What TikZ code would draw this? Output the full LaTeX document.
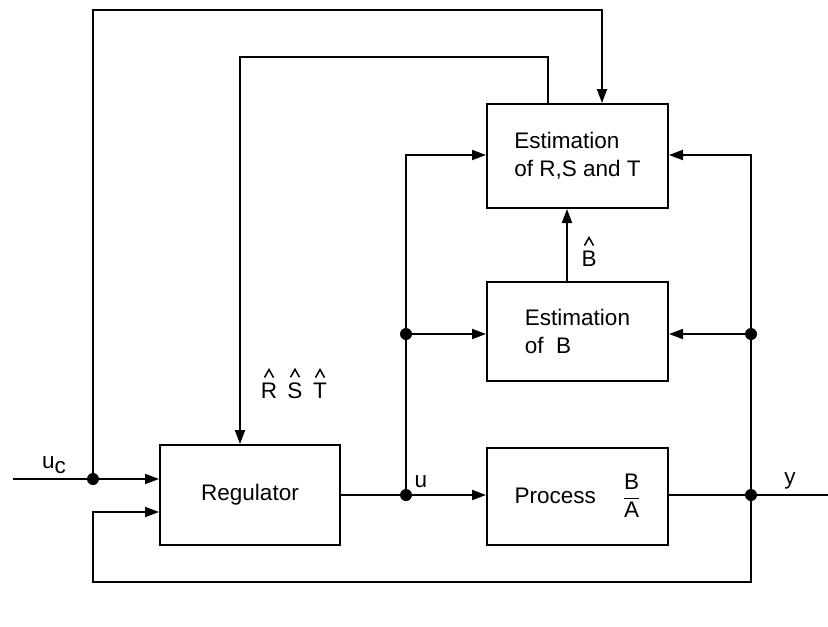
\documentclass[tikz,border=0pt]{standalone}
\usepackage{fontspec}
\usepackage{amsmath}
\setmainfont{Liberation Sans}
\usetikzlibrary{arrows.meta}
\begin{document}
\begin{tikzpicture}[x=1pt,y=-1pt, line width=2pt,
 blk/.style={draw, line width=2pt, minimum width=181pt, inner sep=0pt, font=\fontsize{22.5}{28}\selectfont, align=left},
 arr/.style={-{Triangle[length=14pt,width=10pt]}},
 dot/.style={circle, fill, inner sep=0pt, minimum size=12pt},
 lbl/.style={font=\fontsize{22.5}{25}\selectfont, inner sep=0pt},
 hat/.style={line width=1.5pt, line join=miter},
 pics/caret/.style={code={\draw[hat] (-4.5,0) -- (0,-8) -- (4.5,0);}}]
\useasboundingbox (0,0) rectangle (828,627);
% blocks
\node[blk, minimum width=180pt, minimum height=100pt] (reg) at (250,495) {Regulator};
\node[blk, minimum height=97pt] (proc) at (577.5,496) {Process\hspace{1.2em}$\dfrac{\text{B}}{\text{A}}$};
\node[blk, minimum height=99pt] (estb) at (577.5,331.5) {Estimation\\of\ \ B};
\node[blk, minimum height=104pt] (estr) at (577.5,156) {Estimation\\of R,S and T};
% junctions
\node[dot] (uc) at (93,479) {};
\node[dot] (un) at (406,495) {};
\node[dot] (yn) at (751,495) {};
\node[dot] (ub) at (406,334) {};
\node[dot] (yb) at (751,334) {};
% helper coordinates
\coordinate (in) at (13,479);
\coordinate (out) at (828,495);
\coordinate (tl) at (93,10);
\coordinate (tr) at (602,10);
\coordinate (ta) at (548,57);
\coordinate (tb) at (240,57);
\coordinate (ltop) at (406,155);
\coordinate (rtop) at (751,155);
\coordinate (rbot) at (751,582);
\coordinate (lbot) at (93,582);
\coordinate (lmid) at (93,512);
\coordinate (bh) at (567,0);
% connectors
\draw (in) -- (uc.center);
\draw[arr] (uc.center) -- (reg.west |- uc);
\draw[arr] (uc.center) -- (tl) -- (tr) -- (tr |- estr.north);
\draw[arr] (estr.north -| ta) -- (ta) -- (tb) -- (tb |- reg.north);
\draw (reg.east |- un) -- (un.center);
\draw[arr] (un.center) -- (proc.west |- un);
\draw (proc.east |- yn) -- (out);
\draw[arr] (un.center) -- (ltop) -- (ltop -| estr.west);
\draw[arr] (ub.center) -- (ub -| estb.west);
\draw[arr] (rbot) -- (rtop) -- (rtop -| estr.east);
\draw[arr] (yb.center) -- (yb -| estb.east);
\draw[arr] (yn.center) -- (rbot) -- (lbot) -- (lmid) -- (lmid -| reg.west);
\draw[arr] (estb.north -| bh) -- (estr.south -| bh);
% labels
\node[lbl] (lu) at (421,482) {u};
\node[lbl] (ly) at (790,481) {y};
\node[lbl] (luc) at (54,465) {u\raisebox{-0.45ex}{c}};
\node[lbl, anchor=base] (lbh) at (589,266) {B};
\node[lbl, anchor=base] (lr) at (269,398) {R};
\node[lbl, anchor=base] (ls) at (295,398) {S};
\node[lbl, anchor=base] (lt) at (320,398) {T};
\foreach \n in {lbh,lr,ls,lt} \pic at ([yshift=4pt]\n.north) {caret};
\end{tikzpicture}
\end{document}
